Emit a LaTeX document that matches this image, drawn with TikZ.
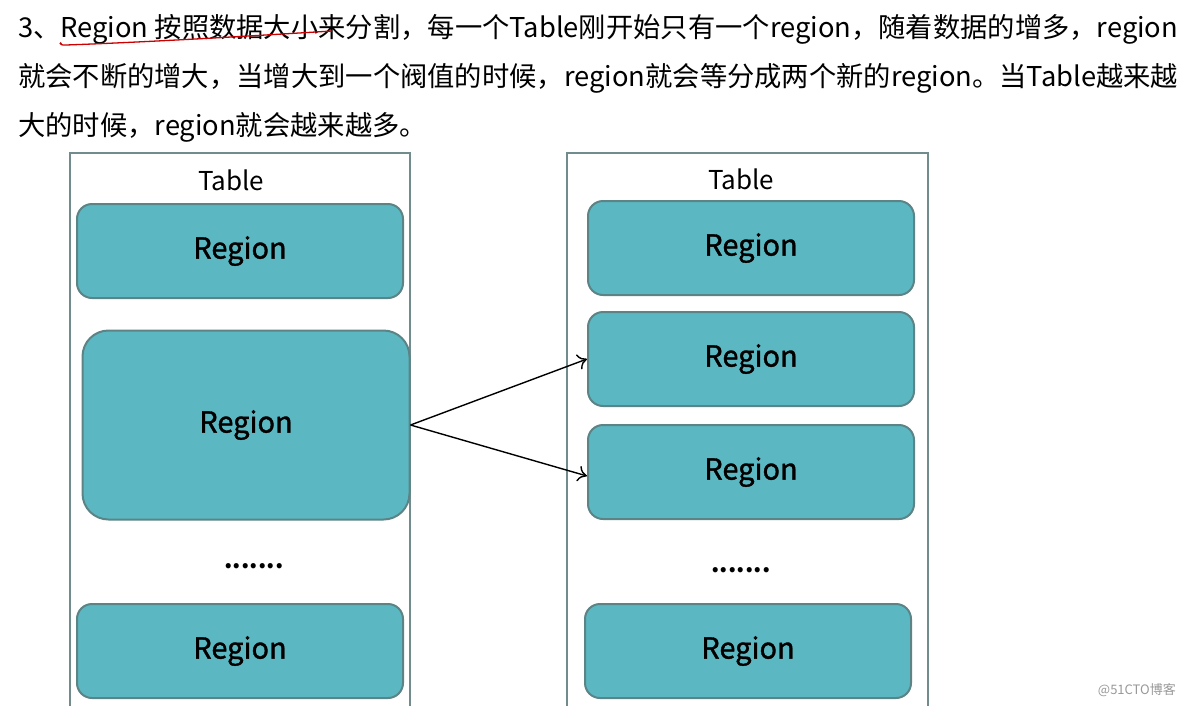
\documentclass[tikz,border=0pt]{standalone}
\usepackage{fontspec}
\usetikzlibrary{arrows.meta}
\setmainfont{Noto Sans CJK SC}
\definecolor{regfill}{RGB}{91,184,194}
\definecolor{regline}{RGB}{92,132,134}
\definecolor{tabline}{RGB}{112,140,140}

\begin{document}
\begin{tikzpicture}[x=1pt,y=-1pt,
    line/.style={font=\fontsize{27.3}{30}\selectfont,anchor=west,inner sep=0pt},
    tablebox/.style={rectangle,draw=tabline,line width=2pt,inner sep=0pt},
    region/.style={rectangle,rounded corners=15pt,draw=regline,line width=2pt,fill=regfill,
      inner sep=0pt,minimum width=326pt,minimum height=94pt,
      font=\fontsize{29}{30}\selectfont\addfontfeature{FakeBold=1.2}},
    label/.style={font=\fontsize{26}{28}\selectfont,inner sep=0pt},
    dots/.style={font=\bfseries\fontsize{24}{28}\selectfont,inner sep=0pt}]
    \useasboundingbox[fill=white] (0,0) rectangle (1184,705);

    % text lines
    \node[line] (t1) at (18,29) {3、Region 按照数据大小来分割，每一个Table刚开始只有一个region，随着数据的增多，region};
    \node[line] (t2) at (18,78) {就会不断的增大，当增大到一个阀值的时候，region就会等分成两个新的region。当Table越来越};
    \node[line] (t3) at (18,127) {大的时候，region就会越来越多。};
    \draw[red!80!black,line width=1.3pt] (62,45) .. controls (60,40) and (58,46) .. (66,45)
        .. controls (150,42) and (250,36) .. (332,31);

    % left table
    \node[tablebox,minimum width=340pt,minimum height=580pt] (ltab) at (240,443) {};
    \node[label] (ltitle) at (231,180) {Table};
    \node[region] (la) at (240,251) {Region};
    \node[region,minimum height=189pt,rounded corners=26pt,minimum width=327pt] (lb) at (246,425) {Region};
    \node[dots] (ldots) at (254,566) {.......};
    \node[region] (lc) at (240,651) {Region};

    % right table
    \node[tablebox,minimum width=361pt,minimum height=580pt] (rtab) at (747,443) {};
    \node[label] (rtitle) at (741,179) {Table};
    \node[region] (ra) at (751,248) {Region};
    \node[region] (rb) at (751,359) {Region};
    \node[region] (rc) at (751,472) {Region};
    \node[dots] (rdots) at (741,570) {.......};
    \node[region] (rd) at (748,651) {Region};

    \path[-{To[length=9pt,width=16pt]}] (lb.east) edge[draw=black,line width=1.4pt] (rb.west);
    \path[-{To[length=9pt,width=16pt]}] (lb.east) edge[draw=black,line width=1.4pt] ([yshift=-4pt]rc.west);

    \node[font=\fontsize{13}{15}\selectfont,text=black!40,anchor=east,inner sep=0pt] (mark) at (1176,690) {@51CTO博客};
  \end{tikzpicture}
\end{document}
